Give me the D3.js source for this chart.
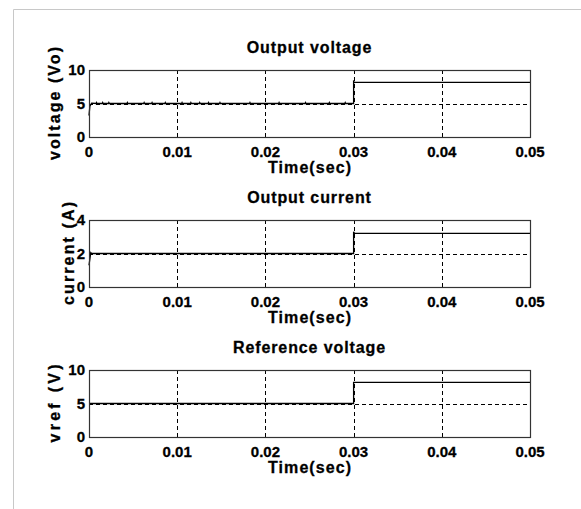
<!DOCTYPE html>
<html>
<head>
<meta charset="utf-8">
<script src="https://cdn.jsdelivr.net/npm/d3@7"></script>
<style>
  body { margin: 0; background: #fff; }
  svg text { font-family: "Liberation Sans", Arial, sans-serif; font-weight: bold; fill: #000; stroke: #000; stroke-width: 0.3px; }
</style>
</head>
<body>
<div id="chart"></div>
<script>
// time axis shared by all three plots
const timeTicks = [0, 0.01, 0.02, 0.03, 0.04, 0.05]

// output voltage (Vo): start-up, small ripple round 5 V, step at 0.03 s
const voltageTime = [0, 0.0001, 0.0003, 0.0008, 0.00085, 0.0009, 0.0015, 0.00155, 0.0016,
  0.0022, 0.00225, 0.0023, 0.0043, 0.00435, 0.0044, 0.0062, 0.00625, 0.0063,
  0.0071, 0.00715, 0.0072, 0.0086, 0.00865, 0.0087, 0.0105, 0.01055, 0.0106,
  0.0115, 0.01155, 0.0116, 0.0125, 0.01255, 0.0126, 0.0135, 0.01355, 0.0136,
  0.0148, 0.01485, 0.0149, 0.0182, 0.01825, 0.0183, 0.0215, 0.02155, 0.0216,
  0.0245, 0.02455, 0.0246, 0.0272, 0.02725, 0.0273, 0.029, 0.02905, 0.0291,
  0.03, 0.03, 0.0301, 0.05]
const voltageValues = [3.2, 4.6, 5.05, 5.0, 5.15, 5.0, 5.0, 5.15, 5.0,
  5.0, 5.15, 5.0, 5.0, 5.15, 5.0, 5.0, 5.15, 5.0,
  5.0, 5.15, 5.0, 5.0, 5.15, 5.0, 5.0, 5.15, 5.0,
  5.0, 5.15, 5.0, 5.0, 5.15, 5.0, 5.0, 5.15, 5.0,
  5.0, 5.15, 5.0, 5.0, 5.15, 5.0, 5.0, 5.15, 5.0,
  5.0, 5.15, 5.0, 5.0, 5.15, 5.0, 5.0, 5.15, 5.0,
  5.0, 8.3, 8.15, 8.15]
const voltageTicks = [0, 5, 10]

// output current (A)
const currentTime = [0, 0.0002, 0.0003, 0.03, 0.03, 0.0301, 0.05]
const currentValues = [1.3, 2.05, 2.0, 2.0, 3.3, 3.2, 3.2]
const currentTicks = [0, 2, 4]

// reference voltage (V)
const refTime = [0, 0.03, 0.03, 0.05]
const refValues = [5, 5, 8.15, 8.15]
const refTicks = [0, 5, 10]

const titles = ["Output voltage", "Output current", "Reference voltage"]
const yLabels = ["voltage (Vo)", "current (A)", "vref (V)"]
const xLabel = "Time(sec)"

const config = {
  width: 581,
  height: 509,
  left: 89,
  right: 530,
  plotHeight: 67,
  tops: [70, 220, 370],
  yLabelX: [60, 74, 60],
  yLabelLen: [113, 103, 78]
}

const panels = [
  { t: voltageTime, v: voltageValues, ticks: voltageTicks, max: 10 },
  { t: currentTime, v: currentValues, ticks: currentTicks, max: 4 },
  { t: refTime, v: refValues, ticks: refTicks, max: 10 }
]

const svg = d3.select('#chart')
  .append('svg')
    .attr('width', config.width)
    .attr('height', config.height)
    .style('background', '#FFF')

// light page frame
svg.append('path')
  .attr('d', `M13.5,${config.height} L13.5,9.5 L${config.width},9.5`)
  .attr('fill', 'none')
  .attr('stroke', '#c8c8c8')
  .attr('stroke-width', 1)

const xScale = d3.scaleLinear().domain([0, 0.05]).range([config.left, config.right])

panels.forEach((p, i) => {
  const top = config.tops[i]
  const bottom = top + config.plotHeight
  const yScale = d3.scaleLinear().domain([0, p.max]).range([bottom, top])
  const g = svg.append('g')

  // grid (dashed)
  g.selectAll('line.vgrid')
    .data(timeTicks.slice(1, -1))
    .enter()
    .append('line')
      .attr('x1', d => Math.round(xScale(d)) + 0.5)
      .attr('x2', d => Math.round(xScale(d)) + 0.5)
      .attr('y1', top)
      .attr('y2', bottom)
      .attr('stroke', '#000')
      .attr('stroke-dasharray', '4,3')
  g.selectAll('line.hgrid')
    .data(p.ticks.slice(1, -1))
    .enter()
    .append('line')
      .attr('x1', config.left)
      .attr('x2', config.right)
      .attr('y1', d => Math.round(yScale(d)) + 0.5)
      .attr('y2', d => Math.round(yScale(d)) + 0.5)
      .attr('stroke', '#000')
      .attr('stroke-dasharray', '4,3')

  // signal
  const line = d3.line()
    .x(d => xScale(d[0]))
    .y(d => yScale(d[1]))
  g.append('path')
    .datum(d3.zip(p.t, p.v))
    .attr('d', line)
    .attr('fill', 'none')
    .attr('stroke', '#000')
    .attr('stroke-width', 1.3)

  // box
  g.append('rect')
    .attr('x', config.left + 0.5)
    .attr('y', top + 0.5)
    .attr('width', config.right - config.left)
    .attr('height', config.plotHeight)
    .attr('fill', 'none')
    .attr('stroke', '#333')
    .attr('stroke-width', 1.2)

  // x tick labels
  g.selectAll('text.xt')
    .data(timeTicks)
    .enter()
    .append('text')
      .attr('x', d => xScale(d))
      .attr('y', bottom + 20)
      .attr('text-anchor', 'middle')
      .style('font-size', '15px')
      .text(d => d === 0 ? '0' : d3.format('.2f')(d))

  // y tick labels
  g.selectAll('text.yt')
    .data(p.ticks)
    .enter()
    .append('text')
      .attr('x', config.left - 4)
      .attr('y', d => yScale(d))
      .attr('dy', '0.36em')
      .attr('text-anchor', 'end')
      .style('font-size', '15px')
      .text(d => d)

  // title
  g.append('text')
    .attr('x', (config.left + config.right) / 2)
    .attr('y', top - 17)
    .attr('text-anchor', 'middle')
    .style('font-size', '16px')
    .style('letter-spacing', '0.9px')
    .text(titles[i])

  // x label
  g.append('text')
    .attr('x', (config.left + config.right) / 2)
    .attr('y', bottom + 36)
    .attr('text-anchor', 'middle')
    .style('font-size', '16px')
    .attr('textLength', 83)
    .attr('lengthAdjust', 'spacing')
    .text(xLabel)

  // y label
  const yl = config.yLabelX[i]
  const ym = (top + bottom) / 2
  g.append('text')
    .attr('transform', `translate(${yl},${ym}) rotate(-90)`)
    .attr('text-anchor', 'middle')
    .style('font-size', '16px')
    .attr('textLength', config.yLabelLen[i])
    .attr('lengthAdjust', 'spacing')
    .text(yLabels[i])
})
</script>
</body>
</html>
